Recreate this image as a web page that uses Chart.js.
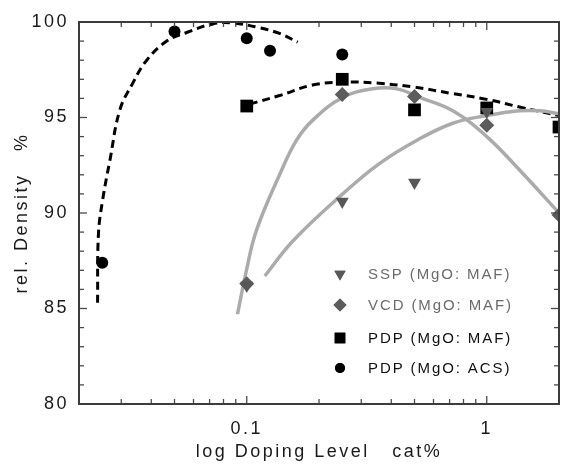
<!DOCTYPE html>
<html><head><meta charset="utf-8">
<script src="https://cdn.jsdelivr.net/npm/chart.js@4.4.1/dist/chart.umd.min.js"></script>
<style>html,body{margin:0;padding:0;background:#fff}</style>
</head><body>
<canvas id="c" width="561" height="467" style="width:561px;height:467px;display:block"></canvas>
<script>
// ---- measured data ----
const sspX = [0.1, 0.25, 0.5, 1];
const sspY = [86.2, 90.6, 91.6, 95.3];
const vcdX = [0.1, 0.25, 0.5, 1, 2];
const vcdY = [86.3, 96.2, 96.1, 94.6, 89.9];
const pdpMafX = [0.1, 0.25, 0.5, 1, 2];
const pdpMafY = [95.6, 97.0, 95.4, 95.5, 94.5];
const pdpAcsX = [0.025, 0.05, 0.1, 0.125, 0.25];
const pdpAcsY = [87.4, 99.5, 99.15, 98.5, 98.3];

// fitted trend curves
const acsFitX = [0.0239, 0.0241, 0.0251, 0.0269, 0.0296, 0.0335, 0.0383, 0.0464, 0.0562, 0.0722, 0.0875, 0.113, 0.137, 0.163];
const acsFitY = [85.3, 88.9, 90.7, 92.75, 95.4, 96.8, 98.0, 99.0, 99.45, 99.9, 99.95, 99.7, 99.4, 98.95];
const mafFitX = [0.1029, 0.137, 0.188, 0.251, 0.348, 0.492, 0.722, 1.0, 1.37, 2.0];
const mafFitY = [95.7, 96.15, 96.7, 96.85, 96.8, 96.6, 96.25, 95.95, 95.55, 95.1];
const vcdFitX = [0.0915, 0.0997, 0.1098, 0.137, 0.161, 0.188, 0.251, 0.335, 0.422, 0.526, 0.722, 1.0, 1.37, 2.0];
const vcdFitY = [84.7, 87.0, 89.1, 92.0, 93.8, 94.85, 96.05, 96.5, 96.5, 96.05, 95.35, 94.0, 92.25, 90.0];
const sspFitX = [0.1189, 0.156, 0.251, 0.358, 0.510, 0.722, 1.0, 1.37, 1.66, 2.0];
const sspFitY = [86.7, 88.55, 91.0, 92.6, 93.8, 94.7, 95.1, 95.35, 95.35, 95.2];

// axis ticks
const xLabelTicks = [0.1, 1];
const xMinorTicks = [0.03,0.04,0.05,0.06,0.07,0.08,0.09,0.2,0.3,0.4,0.5,0.6,0.7,0.8,0.9];
const yMajorTicks = [85, 90, 95];
const yMinorTicks = [81,82,83,84,86,87,88,89,91,92,93,94,96,97,98,99];

const legendLabels = ['SSP (MgO: MAF)', 'VCD (MgO: MAF)', 'PDP (MgO: MAF)', 'PDP (MgO: ACS)'];

const pts = (xs, ys) => xs.map((x, i) => ({x, y: ys[i]}));
const FONT = 'Liberation Sans, Arial, sans-serif';

const markerStyles = [
  {pointStyle: 'triangle', rotation: 180, radius: 7.5, color: '#575757'},
  {pointStyle: 'rectRot', rotation: 0, radius: 7.5, color: '#5c5c5c'},
  {pointStyle: 'rect', rotation: 0, radius: 9, color: '#000000'},
  {pointStyle: 'circle', rotation: 0, radius: 6, color: '#000000'}
];
const seriesX = [sspX, vcdX, pdpMafX, pdpAcsX];
const seriesY = [sspY, vcdY, pdpMafY, pdpAcsY];

const lineDs = (xs, ys, color, dash, w) => ({
  data: pts(xs, ys), showLine: true, pointRadius: 0, borderColor: color,
  borderWidth: w, borderDash: dash, tension: 0.4, order: 2, fill: false
});

const datasets = [
  lineDs(vcdFitX, vcdFitY, '#ababab', [], 3.5),
  lineDs(sspFitX, sspFitY, '#ababab', [], 3.5),
  lineDs(acsFitX, acsFitY, '#000', [8, 5], 3),
  lineDs(mafFitX, mafFitY, '#000', [8, 5], 3)
];
markerStyles.forEach((m, i) => {
  datasets.push({
    label: legendLabels[i], data: pts(seriesX[i], seriesY[i]), showLine: false,
    pointStyle: m.pointStyle, rotation: m.rotation, pointRadius: m.radius,
    backgroundColor: m.color, borderColor: m.color, borderWidth: 0, order: 1
  });
});

const spacing = {
  id: 'spacing',
  beforeDraw(chart) { chart.ctx.letterSpacing = '2.5px'; }
};

const frame = {
  id: 'frame',
  afterDatasetsDraw(chart) {
    const {ctx, chartArea: a, scales: {x, y}} = chart;
    ctx.save();
    ctx.strokeStyle = '#4a4a4a';
    ctx.lineWidth = 1.3;
    const seg = (x1, y1, x2, y2) => { ctx.beginPath(); ctx.moveTo(x1, y1); ctx.lineTo(x2, y2); ctx.stroke(); };
    xMinorTicks.forEach(v => { const p = x.getPixelForValue(v); seg(p, a.bottom, p, a.bottom - 5); seg(p, a.top, p, a.top + 5); });
    xLabelTicks.forEach(v => { const p = x.getPixelForValue(v); seg(p, a.bottom, p, a.bottom - 8); seg(p, a.top, p, a.top + 8); });
    yMinorTicks.forEach(v => { const p = y.getPixelForValue(v); seg(a.left, p, a.left + 5, p); seg(a.right, p, a.right - 5, p); });
    yMajorTicks.forEach(v => { const p = y.getPixelForValue(v); seg(a.left, p, a.left + 8, p); seg(a.right, p, a.right - 8, p); });
    ctx.strokeStyle = '#3c3c3c';
    ctx.lineWidth = 2;
    ctx.strokeRect(a.left, a.top, a.right - a.left, a.bottom - a.top);
    ctx.restore();
  },
  afterDraw(chart) {
    const ctx = chart.ctx;
    const rows = [274, 305, 338, 368];
    const legendMarker = [6.5, 6.5, 7.5, 5];
    const textColors = ['#6b6b6b', '#6b6b6b', '#111', '#111'];
    ctx.save();
    ctx.letterSpacing = '1.9px';
    ctx.font = '15px ' + FONT;
    ctx.textBaseline = 'middle';
    ctx.textAlign = 'left';
    markerStyles.forEach((m, i) => {
      ctx.fillStyle = m.color; ctx.strokeStyle = m.color;
      Chart.helpers.drawPoint(ctx, {pointStyle: m.pointStyle, rotation: m.rotation, radius: legendMarker[i], borderWidth: 0}, 340, rows[i]);
      ctx.fill();
      ctx.fillStyle = textColors[i];
      ctx.fillText(legendLabels[i], 368, rows[i] + 1);
    });
    ctx.restore();
  }
};

new Chart(document.getElementById('c'), {
  type: 'scatter',
  data: {datasets},
  plugins: [spacing, frame],
  options: {
    responsive: false, animation: false, devicePixelRatio: 1,
    layout: {autoPadding: false, padding: {top: 22, right: 2, left: 0, bottom: 0}},
    plugins: {legend: {display: false}, tooltip: {enabled: false}},
    scales: {
      x: {
        type: 'logarithmic', min: 0.02, max: 2,
        grid: {display: false, drawTicks: false}, border: {display: false},
        ticks: {
          autoSkip: false, maxRotation: 0, minRotation: 0, padding: 14, color: '#1a1a1a',
          font: {family: FONT, size: 18},
          callback: (v) => {
            const hit = xLabelTicks.find(t => Math.abs(Math.log10(v) - Math.log10(t)) < 1e-6);
            return hit === undefined ? '' : String(hit);
          }
        },
        title: {display: true, text: 'log Doping Level   cat%', color: '#1a1a1a',
                font: {family: FONT, size: 18}, padding: {top: 0, bottom: 4}},
        afterFit(s) { s.height = 63; s.paddingLeft = 0; s.paddingRight = 0; }
      },
      y: {
        min: 80, max: 100,
        grid: {display: false, drawTicks: false}, border: {display: false},
        ticks: {
          stepSize: 1, autoSkip: false, padding: 10, color: '#1a1a1a',
          font: {family: FONT, size: 18},
          callback: (v) => (v % 5 === 0 ? String(v) : '')
        },
        title: {display: true, text: 'rel. Density   %', color: '#1a1a1a',
                font: {family: FONT, size: 18}, padding: {top: 11, bottom: 0}},
        afterFit(s) { s.width = 79; }
      }
    }
  }
});
</script>
</body></html>
